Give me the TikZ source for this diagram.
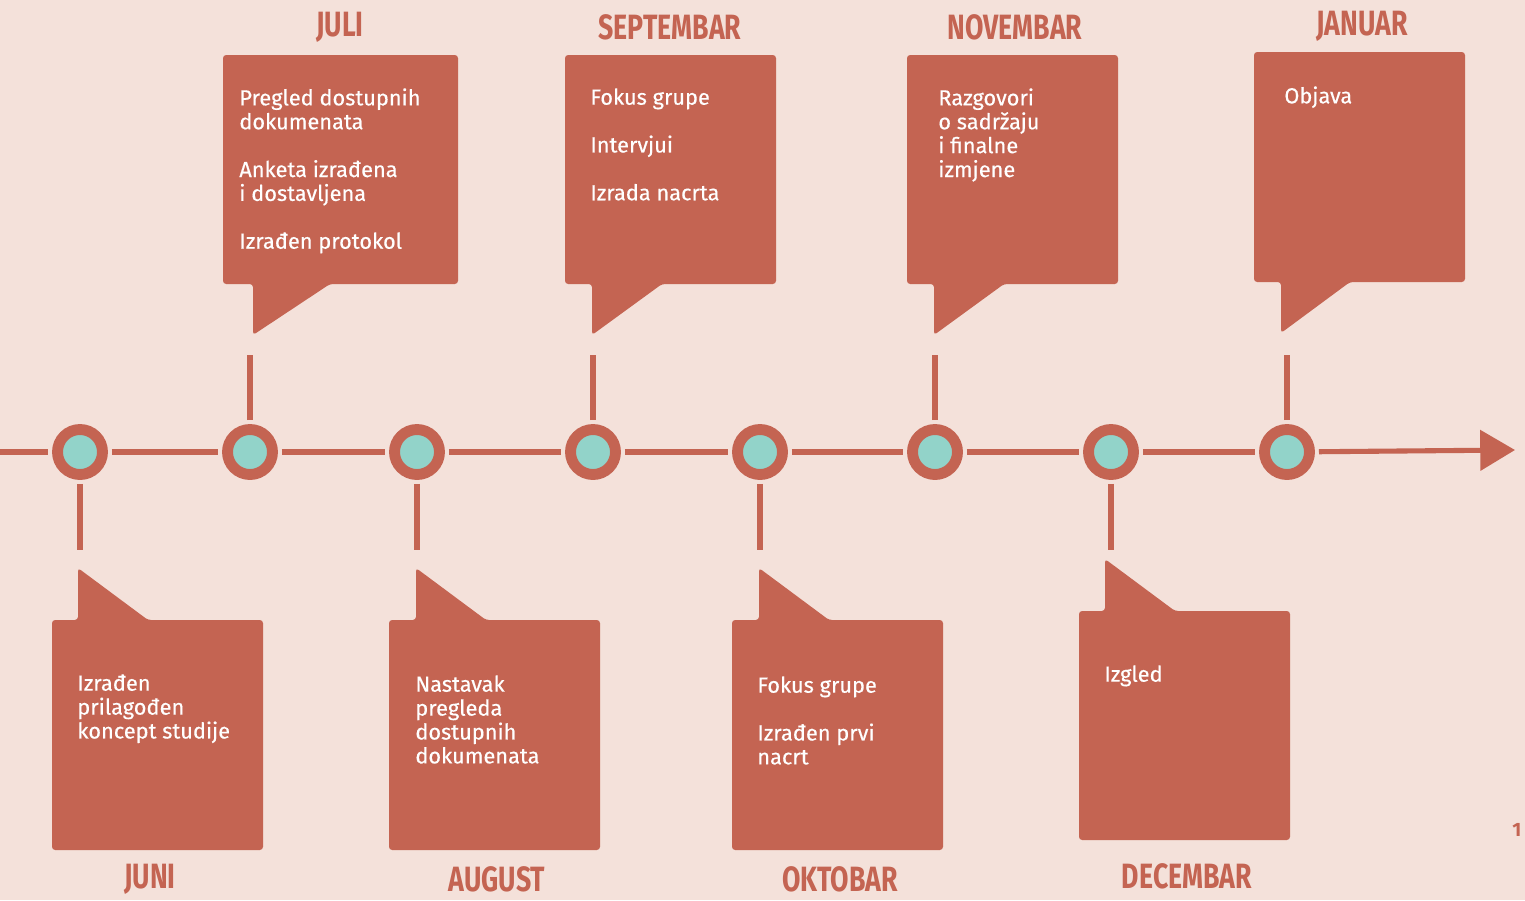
\documentclass[tikz,border=0pt]{standalone}
\usepackage{fontspec}
\setmainfont{Fira Sans}
\newfontfamily\notefont[FakeBold=0.35]{Fira Sans}
\newfontfamily\monthfont[FakeStretch=0.76]{Fira Sans}
\usetikzlibrary{arrows.meta}
\definecolor{paper}{HTML}{F4E1DA}
\definecolor{rust}{HTML}{C46452}
\definecolor{mint}{HTML}{92D3C9}
\tikzset{
  >={Triangle[length=19.8pt,width=22.7pt]},
  axis/.style={draw=rust,line width=2.9pt},
  tick/.style={draw=rust,line width=2.9pt},
  dot/.style={circle,minimum size=0.9cm,inner sep=0pt,draw=rust,fill=mint,line width=6.2pt},
  bubble/.style={fill=rust,rounded corners=1.8pt},
  note/.style={anchor=north west,align=left,inner sep=0pt,text=white,font=\notefont\fontsize{12.4}{13.6}\selectfont},
  month/.style={text=rust,inner sep=0pt,font=\monthfont\bfseries\fontsize{20}{20}\selectfont},
}

\begin{document}
\begin{tikzpicture}[x=0.02cm,y=-0.02cm]
  \fill[paper] (0,0) rectangle (1525,900);
  \clip (0,0) rectangle (1525,900);
  % timeline
  \foreach \x [count=\i] in {80,250,417,593,760,935,1111,1287}
    {\node[dot] (c\i) at (\x,452) {};}
  \coordinate (start) at (-10,452);
  \coordinate (end) at (1515,450);
  \draw[axis,shorten >=2.3pt] (start) -- (c1);
  \foreach \i [evaluate=\i as \j using int(\i+1)] in {1,...,7}
    {\draw[axis,shorten <=2.3pt,shorten >=2.3pt] (c\i) -- (c\j);}
  \draw[axis,->,shorten <=2.3pt] (c8) -- (end);
  % ticks
  \foreach \i/\x in {2/250,4/593,6/935,8/1287}
    {\coordinate (u\i) at (\x,355); \draw[tick,shorten <=2.3pt] (c\i.north) -- (u\i);}
  \foreach \i/\x in {1/80,3/417,5/760,7/1111}
    {\coordinate (d\i) at (\x,550); \draw[tick,shorten <=2.3pt] (c\i.south) -- (d\i);}
  % callouts above
  \foreach \xa/\xb/\ya/\yb/\tx/\dx/\ty in {223/458/55/284/253/330/335,565/776/55/284/592/662/335,907/1118/55/284/934/1004/335,1254/1465/52/282/1281/1350/333}
    {\fill[bubble] (\xa,\ya) -- (\xb,\ya) -- (\xb,\yb) -- (\dx,\yb) -- (\tx,\ty) -- (\tx,\yb) -- (\xa,\yb) -- cycle;}
  % callouts below
  \foreach \xa/\xb/\ya/\yb/\tx/\dx/\ty in {52/263/620/850/78/148/568,389/600/620/850/416/486/568,732/943/620/850/759/829/568,1079/1290/611/840/1105/1175/559}
    {\fill[bubble] (\xa,\ya) -- (\tx,\ya) -- (\tx,\ty) -- (\dx,\ya) -- (\xb,\ya) -- (\xb,\yb) -- (\xa,\yb) -- cycle;}
  % texts
  \node[note] (jul) at (239,88) {Pregled dostupnih\\dokumenata\\[13.6pt]Anketa izrađena\\i dostavljena\\[13.6pt]Izrađen protokol};
  \node[note] (sep) at (590,88) {Fokus grupe\\[13.6pt]Intervjui\\[13.6pt]Izrada nacrta};
  \node[note] (nov) at (938,88) {Razgovori\\o sadržaju\\i finalne\\izmjene};
  \node[note] (jan) at (1284,86) {Objava};
  \node[note] (jun) at (77,674) {Izrađen\\prilagođen\\koncept studije};
  \node[note] (aug) at (415,675) {Nastavak\\pregleda\\dostupnih\\dokumenata};
  \node[note] (okt) at (757,676) {Fokus grupe\\[13.6pt]Izrađen prvi\\nacrt};
  \node[note] (dec) at (1104,665) {Izgled};
  % months
  \node[month] (mjul) at (340,27) {JULI};
  \node[month] (msep) at (670,27) {SEPTEMBAR};
  \node[month] (mnov) at (1015,27) {NOVEMBAR};
  \node[month] (mjan) at (1362,26) {JANUAR};
  \node[month] (mjun) at (150,879) {JUNI};
  \node[month] (maug) at (497,879) {AUGUST};
  \node[month] (mokt) at (840,879) {OKTOBAR};
  \node[month] (mdec) at (1187,876) {DECEMBAR};
  \node[anchor=west,inner sep=0pt,text=rust,font=\bfseries\fontsize{11}{11}\selectfont] (pg) at (1512,830) {1};
\end{tikzpicture}
\end{document}
